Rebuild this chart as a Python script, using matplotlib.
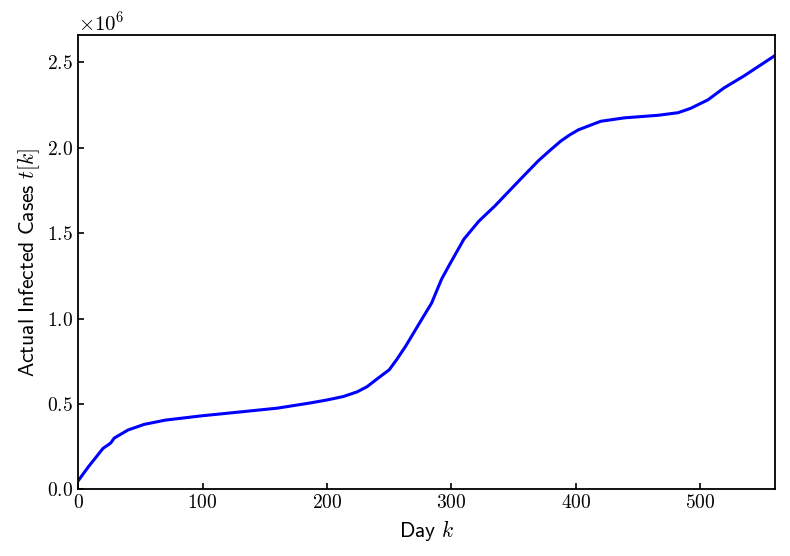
import matplotlib
matplotlib.use("Agg")
import matplotlib.pyplot as plt
import numpy as np
from matplotlib.ticker import ScalarFormatter

# values (cases in millions)
days = [0, 8, 20, 26, 29, 40, 53, 70, 99, 133, 160, 186, 200, 213, 224, 232,
        240, 250, 256, 263, 276, 284, 292, 298, 310, 322, 335, 356, 370, 380,
        388, 395, 402, 420, 439, 466, 482, 492, 506, 519, 535, 560]
cases = [0.05, 0.13, 0.24, 0.27, 0.30, 0.347, 0.38, 0.405, 0.43, 0.455, 0.475,
         0.505, 0.523, 0.543, 0.57, 0.60, 0.645, 0.70, 0.76, 0.836, 0.994, 1.09,
         1.23, 1.31, 1.465, 1.57, 1.66, 1.82, 1.925, 1.99, 2.04, 2.075, 2.105,
         2.155, 2.175, 2.19, 2.205, 2.23, 2.28, 2.35, 2.42, 2.54]

plt.rcParams['font.family'] = 'cmr10'
plt.rcParams['mathtext.fontset'] = 'cm'
plt.rcParams['axes.formatter.use_mathtext'] = True
plt.rcParams['font.size'] = 14

fig, ax = plt.subplots(figsize=(7.9, 5.56), dpi=100)
ax.plot(days, np.array(cases) * 1e6, color='blue', linewidth=2.2)
ax.set_xlim(0, 560)
ax.set_ylim(0, 2.66e6)
ax.set_xlabel(r"$\mathsf{Day}\ k$", fontsize=15.5)
ax.set_ylabel(r"$\mathsf{Actual\ Infected\ Cases}\ t[k]$", fontsize=15.5)
fmt = ScalarFormatter(useMathText=True)
fmt.set_powerlimits((0, 0))
ax.yaxis.set_major_formatter(fmt)
ax.yaxis.get_offset_text().set_fontsize(15)
ax.tick_params(direction='in', length=4, width=1.2)
for s in ax.spines.values():
    s.set_linewidth(1.3)
fig.subplots_adjust(left=0.099, right=0.981, top=0.937, bottom=0.12)
fig.savefig("out.png", dpi=100)
